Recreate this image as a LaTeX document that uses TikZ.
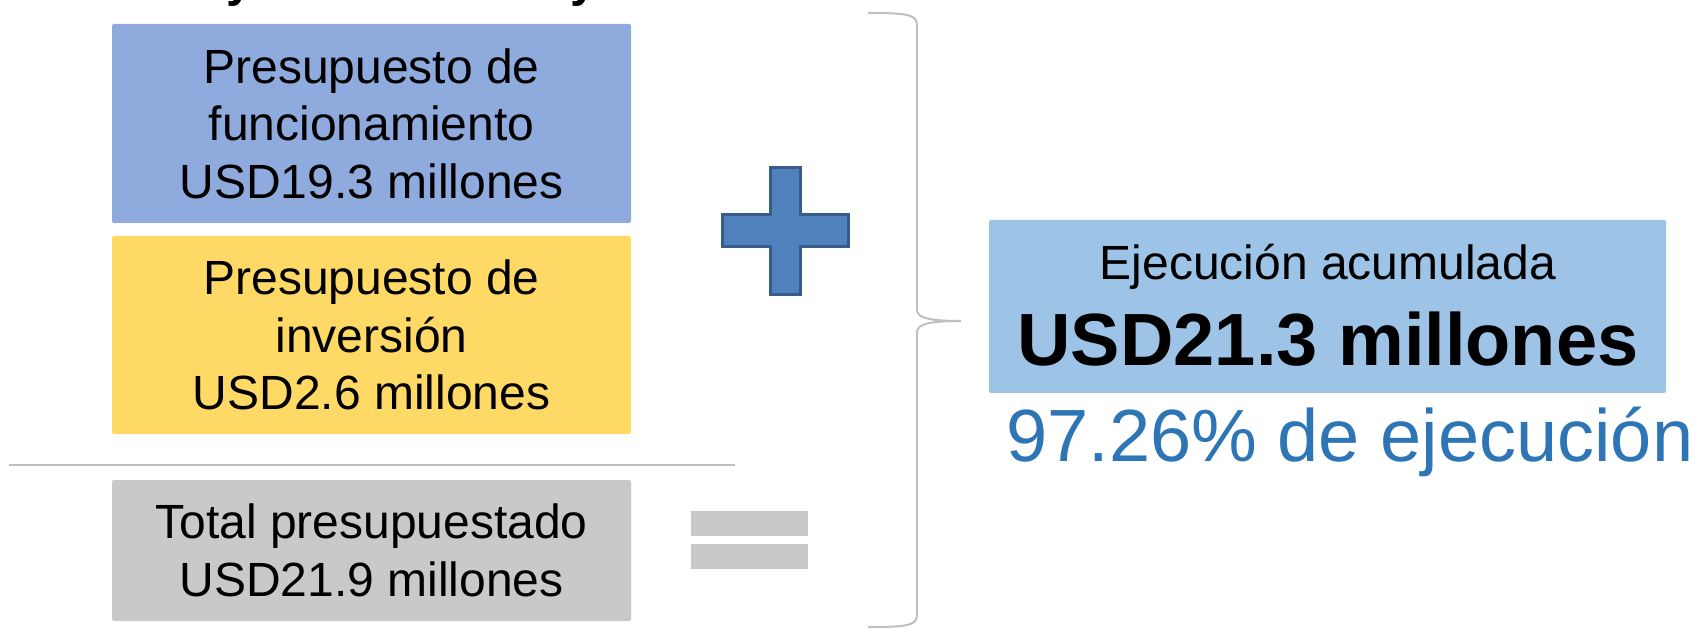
\documentclass[tikz,border=0pt]{standalone}
\usepackage{fontspec}
\setmainfont{Liberation Sans}
\definecolor{funblue}{HTML}{8FAADC}
\definecolor{invyellow}{HTML}{FFD966}
\definecolor{totgray}{HTML}{C9C9C9}
\definecolor{ejeblue}{HTML}{9DC3E6}
\definecolor{pctblue}{HTML}{2E75B6}
\definecolor{plusfill}{HTML}{4F81BD}
\definecolor{plusdraw}{HTML}{385D8A}
\definecolor{linegray}{HTML}{BFBFBF}
\begin{document}
\begin{tikzpicture}[x=0.5pt,y=-0.5pt,
  boxnode/.style={rectangle, rounded corners=1pt, inner sep=0pt, align=center,
    minimum width=259.5pt, font=\fontsize{24}{28.75}\selectfont},
  sepline/.style={draw=linegray, line width=1pt}]
\useasboundingbox (0,0) rectangle (1702,630);
% clipped title fragment
\begin{scope}
\clip (0,0) rectangle (1702,630);
\node[font=\bfseries\fontsize{24}{28}\selectfont, anchor=base, inner sep=0pt] (t1) at (240,-3) {y};
\node[font=\bfseries\fontsize{24}{28}\selectfont, anchor=base, inner sep=0pt] (t2) at (584,-3) {y};
\end{scope}
% boxes
\node[boxnode, fill=funblue, minimum height=99.5pt] (fun) at (371.5,123.5)
  {Presupuesto de\\funcionamiento\\USD19.3 millones};
\node[boxnode, fill=invyellow, minimum height=99pt] (inv) at (371.5,335)
  {Presupuesto de\\inversión\\USD2.6 millones};
\coordinate (la) at (9,465);
\coordinate (lb) at (735,465);
\draw[sepline] (la) -- (lb);
\node[boxnode, fill=totgray, minimum height=70.5pt] (tot) at (371.5,550.5)
  {Total presupuestado\\USD21.9 millones};
% plus sign
\fill[plusfill, draw=plusdraw, line width=1.5pt]
  (770,168) -- (800,168) -- (800,215) -- (848,215) -- (848,247) -- (800,247)
  -- (800,295) -- (770,295) -- (770,247) -- (722,247) -- (722,215) -- (770,215) -- cycle;
% equals sign
\fill[totgray] (691,511) rectangle (808,536);
\fill[totgray] (691,544) rectangle (808,569);
% brace
\draw[linegray, line width=1pt]
  (868,13) .. controls (905,13) and (917,14) .. (917,25) -- (917,310)
  .. controls (917,318) and (930,321) .. (961,321)
  .. controls (930,321) and (917,324) .. (917,332) -- (917,615)
  .. controls (917,626) and (905,627) .. (868,627);
% result box
\node[rectangle, rounded corners=1pt, fill=ejeblue, minimum width=338.5pt,
  minimum height=86.5pt, inner sep=0pt] (eje) at (1327.5,306.5) {};
\node[font=\fontsize{24}{28}\selectfont, anchor=base, inner sep=0pt] (ejea) at (1328,280)
  {Ejecución acumulada};
\node[font=\bfseries\fontsize{37}{42}\selectfont, anchor=base, inner sep=0pt] (ejeb) at (1328,366)
  {USD21.3 millones};
\node[font=\fontsize{37}{42}\selectfont, text=pctblue, anchor=base west, inner sep=0pt] (pct) at (1006,461)
  {97.26\% de ejecución};
\end{tikzpicture}
\end{document}
